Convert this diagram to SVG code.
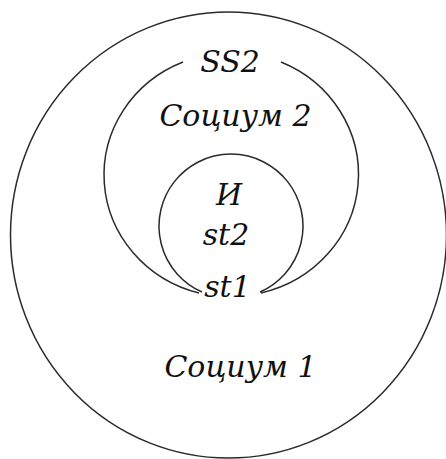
<svg xmlns="http://www.w3.org/2000/svg" width="446" height="459" viewBox="0 0 446 459">
<style>
.ln{fill:none;stroke:#2a2a2a;stroke-width:1.5}
.t{font-family:'DejaVu Serif',serif;font-style:italic;font-size:30px;fill:#111;text-anchor:middle}
</style>
<rect width="446" height="459" fill="#fff"/>
<g id="socium1">
<ellipse class="ln" cx="228.5" cy="235" rx="218" ry="223"/>
<text class="t" x="240.5" y="377">Социум 1</text>
</g>
<g id="socium2">
<path class="ln" d="M183 62 A127 122 0 0 0 199 293"/>
<path class="ln" d="M281 62 A127 122 0 0 1 261 293"/>
<text class="t" x="230" y="72">SS2</text>
<text class="t" x="235.5" y="126">Социум 2</text>
</g>
<g id="individ">
<path class="ln" d="M202 292 A72 72 0 1 1 260 292"/>
<text class="t" x="229" y="205">И</text>
<text class="t" x="226" y="245">st2</text>
<text class="t" x="227.5" y="297">st1</text>
</g>
<g id="connectors"/>
</svg>
